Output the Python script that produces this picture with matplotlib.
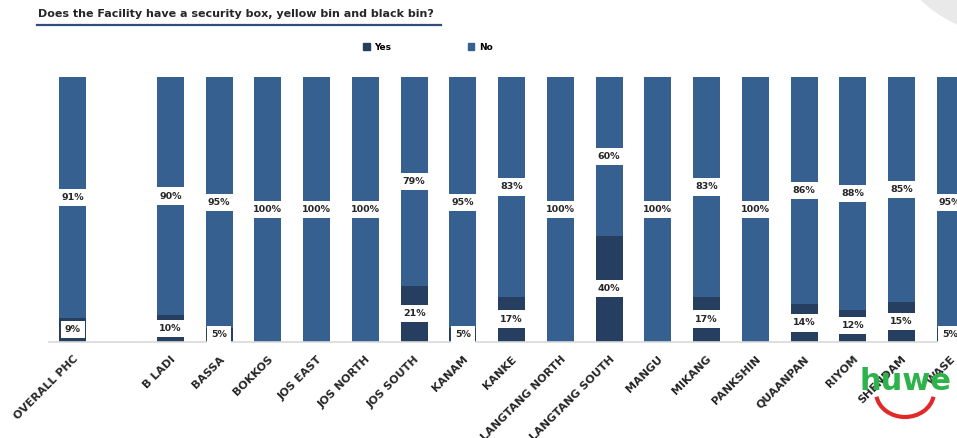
import matplotlib
matplotlib.use("Agg")
import matplotlib.pyplot as plt
from matplotlib.lines import Line2D
from matplotlib.patches import Patch, Ellipse, Arc
import numpy as np

# data (blank slot separates the overall bar)
categories = ["OVERALL PHC", "", "B LADI", "BASSA", "BOKKOS", "JOS EAST", "JOS NORTH",
              "JOS SOUTH", "KANAM", "KANKE", "LANGTANG NORTH", "LANGTANG SOUTH",
              "MANGU", "MIKANG", "PANKSHIN", "QUAANPAN", "RIYOM", "SHENDAM", "WASE"]
yes = [9, None, 10, 5, 0, 0, 0, 21, 5, 17, 0, 40, 0, 17, 0, 14, 12, 15, 5]
no = [91, None, 90, 95, 100, 100, 100, 79, 95, 83, 100, 60, 100, 83, 100, 86, 88, 85, 95]

YES_COLOR = "#263E5F"
NO_COLOR = "#35608F"
TEXT_COLOR = "#262626"

fig = plt.figure(figsize=(9.57, 4.38), dpi=100)
fig.patch.set_facecolor("white")

# decorative grey arc top right
fig.add_artist(Ellipse((1010 / 957, 531 / 438), 2 * 129 / 957, 2 * 129 / 438,
                       transform=fig.transFigure, color="#E9E9E9", lw=0, zorder=0))

ax = fig.add_axes([48.6 / 957, 96.5 / 438, 926 / 957, 264.5 / 438])

x = np.arange(len(categories))
idx = [i for i, c in enumerate(categories) if c]
yv = np.array([yes[i] for i in idx], dtype=float)
nv = np.array([no[i] for i in idx], dtype=float)
xi = x[idx]

w = 0.554
ax.bar(xi, yv, w, color=YES_COLOR, label="Yes", zorder=2)
ax.bar(xi, nv, w, bottom=yv, color=NO_COLOR, label="No", zorder=2)

box = dict(boxstyle="square,pad=0.45", fc="white", ec="none")
for xx, a, b in zip(xi, yv, nv):
    if a > 0:
        ax.text(xx, a / 2, f"{a:.0f}%", ha="center", va="center", fontsize=6.8,
                fontweight="bold", color=TEXT_COLOR, bbox=box, zorder=3)
    if b > 0:
        ax.text(xx, a + b / 2, f"{b:.0f}%", ha="center", va="center", fontsize=6.8,
                fontweight="bold", color=TEXT_COLOR, bbox=box, zorder=3)

ax.set_xlim(-0.5, 18.5)
ax.set_ylim(0, 100)
ax.set_xticks(x)
ax.set_xticklabels(categories, rotation=45, ha="right", rotation_mode="anchor",
                   fontsize=8, fontweight="bold", color=TEXT_COLOR)
ax.tick_params(axis="x", length=0, pad=9)
ax.set_yticks([])
for s in ["top", "right", "left"]:
    ax.spines[s].set_visible(False)
ax.spines["bottom"].set_color("#D9D9D9")
ax.spines["bottom"].set_linewidth(1.2)

# title with underline
fig.text(38 / 957, 1 - 14 / 438, "Does the Facility have a security box, yellow bin and black bin?",
         fontsize=8, fontweight="bold", color=TEXT_COLOR, va="center", ha="left")
fig.add_artist(Line2D([37 / 957, 441 / 957], [1 - 24.5 / 438] * 2, transform=fig.transFigure,
                      color="#2F4E7D", lw=1.6))

handles = [Patch(color=YES_COLOR), Patch(color=NO_COLOR)]
fig.legend(handles, ["Yes", "No"], loc="center", bbox_to_anchor=(428 / 957, 1 - 47 / 438),
           ncol=2, frameon=False, prop={"weight": "bold", "size": 6.5},
           handlelength=0.7, handleheight=0.7, handletextpad=0.5, columnspacing=8.5)

# logo
fig.text(905 / 957, 1 - 381 / 438, "huwe", color="#2DB34A", fontsize=22, fontweight="bold",
         ha="center", va="center")
fig.add_artist(Arc((905 / 957, 1 - 392 / 438), 58 / 957, 50 / 438, theta1=200, theta2=340,
                   transform=fig.transFigure, color="#E02A2A", lw=3))

plt.savefig("out.png", dpi=100)
